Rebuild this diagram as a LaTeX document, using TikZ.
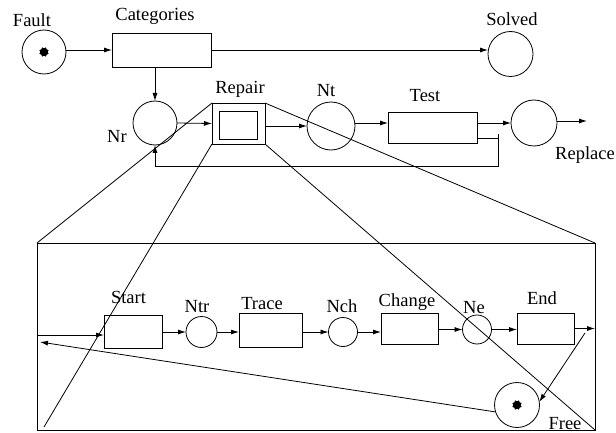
\documentclass[tikz,border=0pt]{standalone}
\usepackage{fontspec}
\setmainfont{Liberation Serif}
\usetikzlibrary{arrows.meta,shapes.geometric}
\begin{document}
\begin{tikzpicture}[x=1pt,y=-1pt,
  line width=0.8pt,
  every node/.style={inner sep=0pt, outer sep=0pt},
  place/.style={draw, circle, minimum size=#1},
  trans/.style={draw, rectangle, minimum width=#1},
  lbl/.style={anchor=base, font=\fontsize{18.5}{20}\selectfont},
  token/.style={star, star points=8, star point ratio=0.75, fill=black, minimum size=7.5pt},
  arr/.style={-{Latex[length=8pt,width=5pt]}}]
\useasboundingbox (0,0) rectangle (616,433);

% upper net
\node[place=44pt] (fault) at (44,52) {};
\node[token] (faulttok) at (fault.center) {};
\node[trans=99pt, minimum height=34pt] (cat) at (161.5,50) {};
\node[place=45pt] (solved) at (510.5,54) {};
\node[place=44pt] (nr) at (155,123) {};
\node[trans=53pt, minimum height=41pt] (repair) at (238.5,123.5) {};
\node[trans=38pt, minimum height=28pt] (repairin) at (238,125) {};
\node[place=48pt] (nt) at (331,126) {};
\node[trans=89pt, minimum height=31pt] (test) at (432.5,127.5) {};
\node[place=46pt] (rep) at (534,123) {};
\coordinate (repout) at (587,121);
\coordinate (fbtop) at (498,134);
\coordinate (fbbot) at (498,166);

\node[lbl] (lfault) at (32,27) {Fault};
\node[lbl] (lcat) at (155,21) {Categories};
\node[lbl] (lsolved) at (512,26) {Solved};
\node[lbl] (lrepair) at (240,94) {Repair};
\node[lbl] (lnr) at (117,143) {Nr};
\node[lbl] (lnt) at (326,97) {Nt};
\node[lbl] (ltest) at (425,102) {Test};
\node[lbl] (lrep) at (585,160) {Replace};

\draw[arr] (fault.east |- cat.west) -- (cat.west);
\draw[arr] (cat.east) -- (cat.east -| solved.west);
\draw[arr] (cat.south -| nr.north) -- (nr.north);
\draw[arr] (nr.east) -- (repair.west);
\draw[arr] (repair.east |- nt.west) -- (nt.west);
\draw[arr] (nt.east |- rep.west) -- (nt.east |- rep.west -| test.west);
\draw[arr] (test.east |- rep.west) -- (rep.west);
\draw[arr] (rep.east |- repout) -- (repout);
\draw ([yshift=5pt]test.south east) -- ([yshift=5pt]test.south east -| fbtop);
\draw[arr] (fbtop) -- (fbbot) -| (nr.south);

% magnified sub-net of Repair
\node[draw, rectangle, minimum width=558pt, minimum height=187pt] (big) at (316,336.5) {};
\coordinate (bigbl) at (44,427);
\draw (repair.north west) -- (big.north west);
\draw (repair.south west) -- (bigbl);
\draw (repair.north east) -- (big.north east);
\draw (repair.south east) -- (big.south east);

\node[trans=58pt, minimum height=33pt] (start) at (133,331.5) {};
\node[place=31pt] (ntr) at (201.5,332) {};
\node[trans=63pt, minimum height=34pt] (trace) at (270.5,330) {};
\node[place=29pt] (nch) at (343,332) {};
\node[trans=57pt, minimum height=31pt] (change) at (409.5,328.5) {};
\node[place=29pt] (ne) at (477,329.5) {};
\node[trans=57pt, minimum height=31pt] (endt) at (545.5,328.5) {};
\node[place=45pt] (free) at (517,405) {};
\node[token] (freetok) at (free.center) {};
\coordinate (tap) at (585,333);
\coordinate (back) at (40,342);

\node[lbl] (lstart) at (128.5,303) {Start};
\node[lbl] (lntr) at (197,312) {Ntr};
\node[lbl] (ltrace) at (262,309) {Trace};
\node[lbl] (lnch) at (342,312) {Nch};
\node[lbl] (lchange) at (407,306) {Change};
\node[lbl] (lne) at (474,313) {Ne};
\node[lbl] (lend) at (542,304) {End};
\node[lbl] (lfree) at (565,429) {Free};

\draw[arr] (big.west |- 0,335) -- (start.west |- 0,335);
\draw[arr] (start.east |- ntr.west) -- (ntr.west);
\draw[arr] (ntr.east) -- (ntr.east -| trace.west);
\draw[arr] (trace.east |- nch.west) -- (nch.west);
\draw[arr] (nch.east) -- (nch.east -| change.west);
\draw[arr] (change.east |- ne.west) -- (ne.west);
\draw[arr] (ne.east) -- (ne.east -| endt.west);
\draw[arr] (endt.east) -- (endt.east -| big.east);
\draw[arr] (tap) -- (free.8);
\draw[arr] (free.198) -- (back);
\end{tikzpicture}
\end{document}
